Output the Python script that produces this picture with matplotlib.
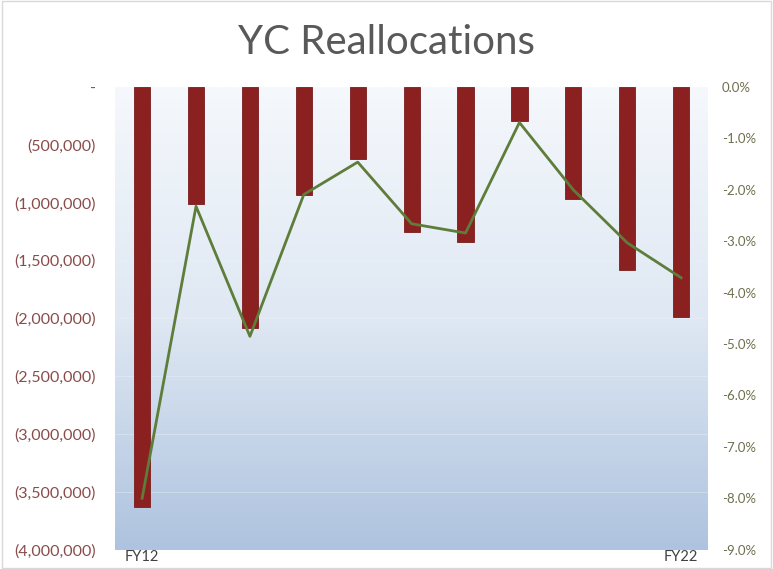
import numpy as np
import matplotlib
matplotlib.use("Agg")
import matplotlib.pyplot as plt
from matplotlib.colors import LinearSegmentedColormap
from matplotlib.ticker import FuncFormatter

# values
years = ["FY12", "FY13", "FY14", "FY15", "FY16", "FY17", "FY18", "FY19", "FY20", "FY21", "FY22"]
realloc = [-3630000, -1015000, -2080000, -930000, -625000, -1255000, -1340000, -290000, -970000, -1580000, -1990000]
pct = [-8.0, -2.32, -4.85, -2.09, -1.46, -2.66, -2.84, -0.69, -2.0, -3.03, -3.71]
shown_labels = {"FY12", "FY22"}

plt.rcParams['font.family'] = ['Lato', 'DejaVu Sans']

fig = plt.figure(figsize=(7.73, 5.69), dpi=100)
fig.patch.set_facecolor("white")
ax = fig.add_axes([0.149, 0.034, 0.767, 0.813])

# gradient background
cmap = LinearSegmentedColormap.from_list("bg", ["#f5f8fc", "#dfe8f3", "#aec3df"])
grad = np.linspace(0, 1, 256).reshape(-1, 1)
ax.imshow(grad, cmap=cmap, aspect="auto", extent=[0, 1, 0, 1],
          transform=ax.transAxes, zorder=0)

x = np.arange(len(years))
ax.bar(x, realloc, width=0.3, color="#8b2020", edgecolor="#7a1c1c", linewidth=0.6, zorder=3)
ax.set_xlim(-0.5, len(years) - 0.5)
ax.set_ylim(-4000000, 0)
ax.set_yticks(np.arange(-4000000, 1, 500000))

def money(v, pos):
    if v == 0:
        return "-"
    return "({:,.0f})".format(abs(v))

ax.yaxis.set_major_formatter(FuncFormatter(money))
ax.tick_params(axis="y", colors="#8a4b4b", labelsize=11.5, length=0, pad=14)
ax.set_xticks(x)
ax.set_xticklabels([y if y in shown_labels else "" for y in years])
ax.tick_params(axis="x", colors="#404040", labelsize=10.5, length=0, pad=0)
for y in np.arange(-3500000, 0, 500000):
    ax.axhline(y, color="#eef2f8", lw=0.6, alpha=0.45, zorder=1)
for s in ax.spines.values():
    s.set_visible(False)

ax2 = ax.twinx()
ax2.plot(x, pct, color="#5e7d3a", lw=2, zorder=4)
ax2.set_ylim(-9, 0)
ax2.set_yticks(np.arange(-9, 0.1, 1))
ax2.yaxis.set_major_formatter(FuncFormatter(lambda v, p: "{:.1f}%".format(v)))
ax2.tick_params(axis="y", colors="#6f6f50", labelsize=9.5, length=0, pad=10)
for s in ax2.spines.values():
    s.set_visible(False)

fig.text(0.5, 0.925, "YC Reallocations", ha="center", va="center", fontsize=29, color="#595959")

# light outer border
fig.patches.append(plt.Rectangle((0.002, 0.002), 0.996, 0.996, transform=fig.transFigure,
                                 fill=False, edgecolor="#d9d9d9", lw=1))

fig.savefig("out.png", dpi=100)
